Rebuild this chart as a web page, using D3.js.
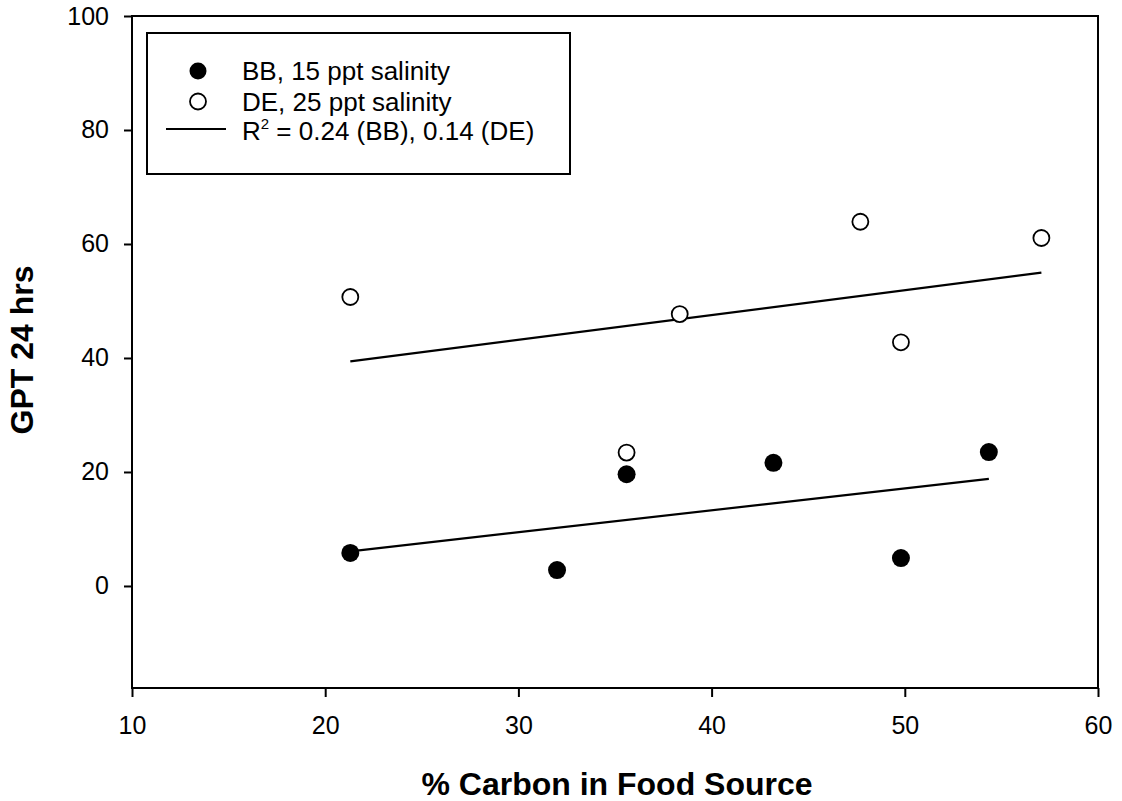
<!DOCTYPE html>
<html>
<head>
<meta charset="utf-8">
<script src="https://cdn.jsdelivr.net/npm/d3@7"></script>
<style>
  html, body { margin: 0; padding: 0; background: #fff; }
  svg { display: block; }
  text { font-family: "Liberation Sans", Arial, sans-serif; fill: #000; }
</style>
</head>
<body>
<svg id="chart" width="1122" height="801"></svg>
<script>
// ---- data ----
const bbX = [21.3, 32.0, 35.6, 43.2, 49.8, 54.35];
const bbY = [5.8, 2.8, 19.6, 21.6, 4.9, 23.5];
const deX = [21.3, 35.6, 38.35, 47.7, 49.8, 57.07];
const deY = [50.7, 23.4, 47.7, 63.9, 42.75, 61.05];
const xTicks = [10, 20, 30, 40, 50, 60];
const yTicks = [0, 20, 40, 60, 80, 100];
const xDomain = [10, 60];
const yDomain = [-17.9, 100];
const legendLabels = ["BB, 15 ppt salinity", "DE, 25 ppt salinity"];
const xTitle = "% Carbon in Food Source";
const yTitle = "GPT 24 hrs";

// ---- layout ----
const svg = d3.select("#chart");
const L = 132, R = 1098, T = 16, B = 688;
const x = d3.scaleLinear().domain(xDomain).range([L, R]);
const y = d3.scaleLinear().domain(yDomain).range([B, T]);

// linear regression (least squares)
function fit(xs, ys) {
  const mx = d3.mean(xs), my = d3.mean(ys);
  let sxy = 0, sxx = 0;
  xs.forEach((v, i) => { sxy += (v - mx) * (ys[i] - my); sxx += (v - mx) * (v - mx); });
  const b = sxy / sxx, a = my - b * mx;
  const x0 = d3.min(xs), x1 = d3.max(xs);
  return [[x0, a + b * x0], [x1, a + b * x1]];
}

// axes
const yAxis = d3.axisLeft(y).tickValues(yTicks).tickSize(8).tickPadding(15).tickSizeOuter(0);
const xAxis = d3.axisBottom(x).tickValues(xTicks).tickSize(9).tickPadding(19).tickSizeOuter(0);

const gy = svg.append("g").attr("transform", `translate(${L},0)`).call(yAxis);
const gx = svg.append("g").attr("transform", `translate(0,${B})`).call(xAxis);
[gy, gx].forEach(g => {
  g.select(".domain").remove();
  g.selectAll(".tick line").attr("stroke", "#000").attr("stroke-width", 2);
  g.selectAll(".tick text").style("font-size", "25px").style("font-family", '"Liberation Sans", Arial, sans-serif').attr("fill", "#000");
});

// frame
svg.append("rect")
  .attr("x", L).attr("y", T).attr("width", R - L).attr("height", B - T)
  .attr("fill", "none").attr("stroke", "#000").attr("stroke-width", 2);

// regression lines
const line = d3.line().x(d => x(d[0])).y(d => y(d[1]));
[fit(bbX, bbY), fit(deX, deY)].forEach(seg => {
  svg.append("path").attr("d", line(seg)).attr("fill", "none")
    .attr("stroke", "#000").attr("stroke-width", 2.2);
});

// points
svg.append("g").selectAll("circle").data(deX.map((v, i) => [v, deY[i]])).join("circle")
  .attr("cx", d => x(d[0])).attr("cy", d => y(d[1])).attr("r", 8)
  .attr("fill", "#fff").attr("stroke", "#000").attr("stroke-width", 1.8);
svg.append("g").selectAll("circle").data(bbX.map((v, i) => [v, bbY[i]])).join("circle")
  .attr("cx", d => x(d[0])).attr("cy", d => y(d[1])).attr("r", 9)
  .attr("fill", "#000");

// legend
const lg = svg.append("g");
lg.append("rect").attr("x", 147).attr("y", 33).attr("width", 423).attr("height", 141)
  .attr("fill", "#fff").attr("stroke", "#000").attr("stroke-width", 2);
lg.append("circle").attr("cx", 198).attr("cy", 71).attr("r", 8.5).attr("fill", "#000");
lg.append("circle").attr("cx", 198).attr("cy", 101.5).attr("r", 8)
  .attr("fill", "#fff").attr("stroke", "#000").attr("stroke-width", 1.8);
lg.append("line").attr("x1", 166).attr("x2", 226).attr("y1", 129).attr("y2", 129)
  .attr("stroke", "#000").attr("stroke-width", 2);
lg.append("text").attr("x", 242).attr("y", 80).style("font-size", "26px").text(legendLabels[0]);
lg.append("text").attr("x", 242).attr("y", 110.5).style("font-size", "26px").text(legendLabels[1]);
const t3 = lg.append("text").attr("x", 242).attr("y", 140).style("font-size", "26px");
t3.append("tspan").text("R");
t3.append("tspan").attr("dy", -11).style("font-size", "15px").text("2");
t3.append("tspan").attr("dy", 11).text(" = 0.24 (BB), 0.14 (DE)");

// axis titles
svg.append("text").attr("x", 617).attr("y", 795).attr("text-anchor", "middle")
  .style("font-size", "32px").style("font-weight", "bold").text(xTitle);
svg.append("text").attr("transform", "translate(33,350) rotate(-90)").attr("text-anchor", "middle")
  .style("font-size", "32px").style("font-weight", "bold").text(yTitle);
</script>
</body>
</html>
